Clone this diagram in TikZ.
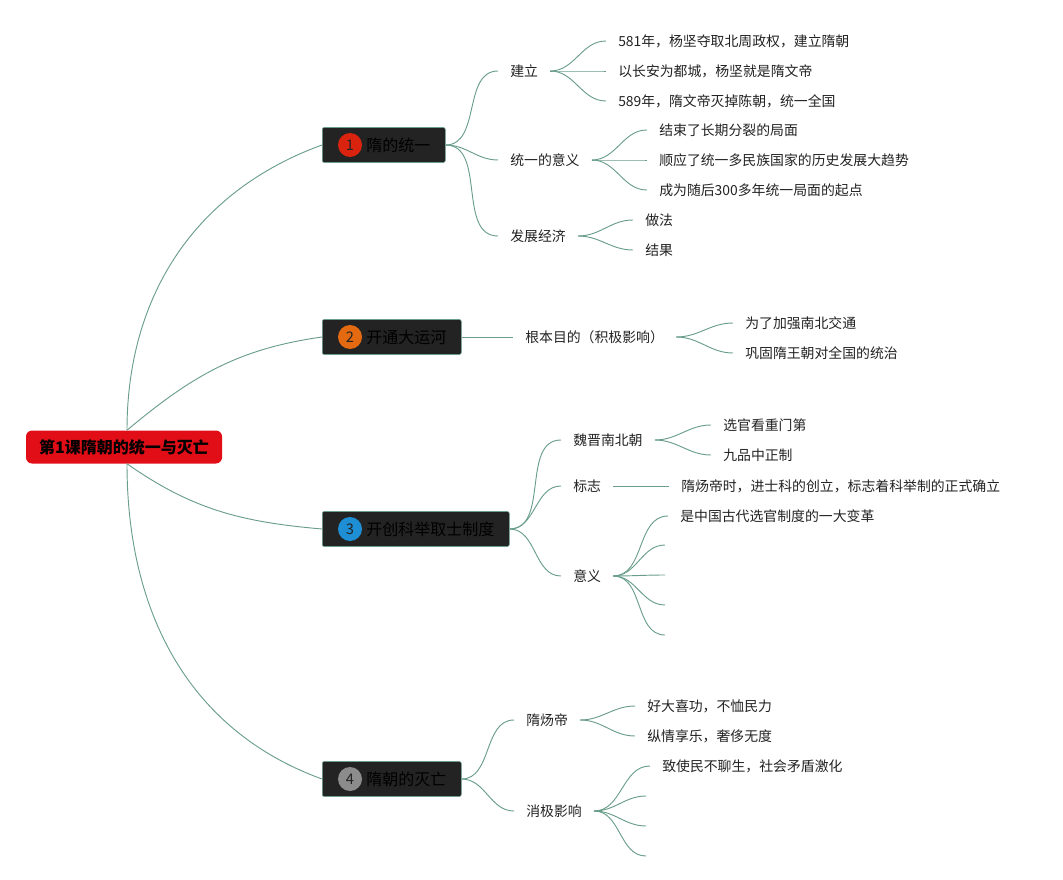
\documentclass[tikz,border=0pt]{standalone}
\usepackage{fontspec}
\setmainfont{Noto Sans CJK SC}
\usetikzlibrary{positioning,calc}
\definecolor{mmline}{HTML}{6A9E8A}
\definecolor{mmbox}{HTML}{232323}
\definecolor{mmred}{HTML}{E10E17}
\definecolor{mmone}{HTML}{D9230F}
\definecolor{mmtwo}{HTML}{E46A12}
\definecolor{mmthree}{HTML}{1E8FD5}
\definecolor{mmfour}{HTML}{8C8C8C}
\definecolor{mmtext}{HTML}{222222}
\tikzset{
  link/.style={mmline,line width=0.7pt},
  root/.style={fill=mmred,rounded corners=4.5pt,minimum width=147pt,
               minimum height=24.75pt,font=\fontsize{12}{14}\selectfont\bfseries,text=black},
  branch/.style={anchor=west,draw=mmline,fill=mmbox,rounded corners=1.5pt,
                 minimum height=26.25pt,inner xsep=11.25pt,
                 font=\fontsize{12}{14}\selectfont,text=black},
  badge/.style={circle,inner sep=0pt,minimum size=18pt,
                font=\fontsize{11}{12}\selectfont,text=mmbox},
  sub/.style={anchor=west,inner xsep=9pt,inner ysep=2pt,
              font=\fontsize{10.4}{12}\selectfont,text=mmtext},
  leaf/.style={sub}
}

\begin{document}
\begin{tikzpicture}[x=0.75pt,y=-0.75pt]
    \useasboundingbox (0,0) rectangle (1063,880);
    % centre
    \node[root] (root) at (124,447) {第1课隋朝的统一与灭亡};
    \coordinate (rt) at ($(root.north)+(3,0)$);
    \coordinate (rb) at ($(root.south)+(3,0)$);

    % main topics
    \node[branch] (b1) at (322,145) {\hspace*{21.75pt}隋的统一};
    \node[branch] (b2) at (322,337) {\hspace*{21.75pt}开通大运河};
    \node[branch] (b3) at (322,529) {\hspace*{21.75pt}开创科举取士制度};
    \node[branch] (b4) at (322,779) {\hspace*{21.75pt}隋朝的灭亡};
    \node[badge,fill=mmone] (n1) at ($(b1.west)+(28,0)$) {1};
    \node[badge,fill=mmtwo] (n2) at ($(b2.west)+(28,0)$) {2};
    \node[badge,fill=mmthree] (n3) at ($(b3.west)+(28,0)$) {3};
    \node[badge,fill=mmfour] (n4) at ($(b4.west)+(28,0)$) {4};
    \draw[link] (rt) to[out=90,in=200] (b1.west);
    \draw[link] (rt) to[out=40,in=188] (b2.west);
    \draw[link] (rb) to[out=-35,in=175] (b3.west);
    \draw[link] (rb) to[out=-90,in=160] (b4.west);

    % 1: unification
    \begin{scope}
      \node[sub] (jl) at (498,71) {建立};
      \node[sub] (yy) at (498,160) {统一的意义};
      \node[sub] (fz) at (498,236) {发展经济};
      \node[leaf] (jl1) at (606,41) {581年，杨坚夺取北周政权，建立隋朝};
      \node[leaf] (jl2) at (606,71) {以长安为都城，杨坚就是隋文帝};
      \node[leaf] (jl3) at (606,101) {589年，隋文帝灭掉陈朝，统一全国};
      \node[leaf] (yy1) at (647,130) {结束了长期分裂的局面};
      \node[leaf] (yy2) at (647,160) {顺应了统一多民族国家的历史发展大趋势};
      \node[leaf] (yy3) at (647,190) {成为随后300多年统一局面的起点};
      \node[leaf] (fz1) at (633,220) {做法};
      \node[leaf] (fz2) at (633,250) {结果};
      \foreach \k in {jl,yy,fz} \draw[link] (b1.east) to[out=0,in=180] (\k.west);
      \foreach \k in {jl1,jl2,jl3} \draw[link] (jl.east) to[out=0,in=180] (\k.west);
      \foreach \k in {yy1,yy2,yy3} \draw[link] (yy.east) to[out=0,in=180] (\k.west);
      \foreach \k in {fz1,fz2} \draw[link] (fz.east) to[out=0,in=180] (\k.west);
    \end{scope}

    % 2: grand canal
    \begin{scope}
      \node[sub] (gb) at (513,337) {根本目的（积极影响）};
      \node[leaf] (gb1) at (733,323) {为了加强南北交通};
      \node[leaf] (gb2) at (733,353) {巩固隋王朝对全国的统治};
      \draw[link] (b2.east) -- (gb.west);
      \foreach \k in {gb1,gb2} \draw[link] (gb.east) to[out=0,in=180] (\k.west);
    \end{scope}

    % 3: imperial examinations
    \begin{scope}
      \node[sub] (wj) at (561,440) {魏晋南北朝};
      \node[sub] (bz) at (561,486) {标志};
      \node[sub] (yi) at (561,576) {意义};
      \node[leaf] (wj1) at (711,425) {选官看重门第};
      \node[leaf] (wj2) at (711,455) {九品中正制};
      \node[leaf] (bz1) at (669,486) {隋炀帝时，进士科的创立，标志着科举制的正式确立};
      \node[leaf] (yi1) at (668,516) {是中国古代选官制度的一大变革};
      \node[leaf] (yi2) at (665,545) {};
      \node[leaf] (yi3) at (665,575) {};
      \node[leaf] (yi4) at (665,605) {};
      \node[leaf] (yi5) at (665,635) {};
      \foreach \k in {wj,bz,yi} \draw[link] (b3.east) to[out=0,in=180] (\k.west);
      \foreach \k in {wj1,wj2} \draw[link] (wj.east) to[out=0,in=180] (\k.west);
      \draw[link] (bz.east) -- (bz1.west);
      \foreach \k in {yi1,yi2,yi3,yi4,yi5} \draw[link] (yi.east) to[out=0,in=180] (\k.west);
    \end{scope}

    % 4: downfall
    \begin{scope}
      \node[sub] (yd) at (514,720) {隋炀帝};
      \node[sub] (xj) at (514,811) {消极影响};
      \node[leaf] (yd1) at (635,706) {好大喜功，不恤民力};
      \node[leaf] (yd2) at (635,736) {纵情享乐，奢侈无度};
      \node[leaf] (xj1) at (650,766) {致使民不聊生，社会矛盾激化};
      \node[leaf] (xj2) at (646,796) {};
      \node[leaf] (xj3) at (646,826) {};
      \node[leaf] (xj4) at (646,856) {};
      \foreach \k in {yd,xj} \draw[link] (b4.east) to[out=0,in=180] (\k.west);
      \foreach \k in {yd1,yd2} \draw[link] (yd.east) to[out=0,in=180] (\k.west);
      \foreach \k in {xj1,xj2,xj3,xj4} \draw[link] (xj.east) to[out=0,in=180] (\k.west);
    \end{scope}
  \end{tikzpicture}
\end{document}
